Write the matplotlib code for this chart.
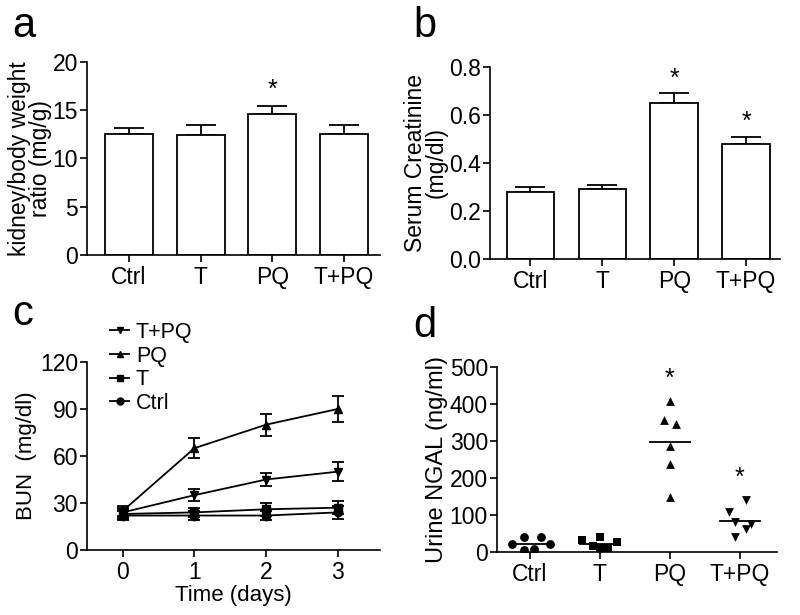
import matplotlib
matplotlib.use("Agg")
import matplotlib.pyplot as plt
from matplotlib.lines import Line2D
import numpy as np

plt.rcParams['font.family'] = ['Liberation Sans', 'DejaVu Sans']
plt.rcParams['axes.linewidth'] = 1.2
plt.rcParams['xtick.major.width'] = 1.2
plt.rcParams['ytick.major.width'] = 1.2
plt.rcParams['xtick.major.size'] = 5
plt.rcParams['ytick.major.size'] = 5

groups = ["Ctrl", "T", "PQ", "T+PQ"]

# Panel a: kidney/body weight ratio (mg/g)
ratio_mean = [12.5, 12.4, 14.6, 12.5]
ratio_err = [0.7, 1.1, 0.8, 1.0]
ratio_sig = [False, False, True, False]

# Panel b: serum creatinine (mg/dl)
creat_mean = [0.28, 0.29, 0.65, 0.48]
creat_err = [0.02, 0.02, 0.04, 0.03]
creat_sig = [False, False, True, True]

# Panel c: BUN over time
days = [0, 1, 2, 3]
bun_tpq = [24, 35, 45, 50]
bun_tpq_err = [3, 4, 4, 6]
bun_pq = [25, 65, 80, 90]
bun_pq_err = [3, 6.5, 7, 8]
bun_t = [23, 24, 26, 27]
bun_t_err = [3, 3, 4, 4]
bun_ctrl = [22, 22, 22, 24]
bun_ctrl_err = [3, 3, 3, 4]

# Panel d: urine NGAL (ng/ml), individual animals
ngal_ctrl = [22, 40, 5, 8, 40, 22]
ngal_t = [32, 15, 40, 10, 10, 26]
ngal_pq = [408, 358, 347, 287, 237, 148]
ngal_tpq = [140, 108, 81, 76, 62, 40]
ngal_sig = [False, False, True, True]

# horizontal jitter (layout only)
jit_ctrl = [-0.25, -0.08, -0.08, 0.06, 0.16, 0.28]
jit_t = [-0.25, -0.1, 0.0, 0.0, 0.12, 0.25]
jit_pq = [0.0, -0.09, 0.09, 0.0, 0.0, 0.0]
jit_tpq = [0.09, -0.16, -0.07, 0.16, 0.09, -0.07]

W, H = 800, 615
fig = plt.figure(figsize=(8, 6.15), dpi=100)

def ax_at(l, t, r, b):
    return fig.add_axes([l / W, 1 - b / H, (r - l) / W, (b - t) / H])

TICK_FS = 16.5
LAB_FS = 16

def style(ax):
    ax.spines['top'].set_visible(False)
    ax.spines['right'].set_visible(False)
    ax.tick_params(labelsize=TICK_FS, direction='out')
    ax.tick_params(axis='y', pad=1.5)
    ax.tick_params(axis='x', pad=3)

x = np.arange(4)

# ---- a ----
axa = ax_at(87, 62, 380, 255)
axa.bar(x, ratio_mean, width=0.67, color='white', edgecolor='black', linewidth=1.3, zorder=2)
axa.errorbar(x, ratio_mean, yerr=[np.zeros(4), ratio_err], fmt='none', ecolor='black',
             elinewidth=1.3, capsize=11, capthick=1.3, zorder=1)
for i in range(4):
    if ratio_sig[i]:
        axa.text(x[i], ratio_mean[i] + ratio_err[i] + 0.5, '*', ha='center', va='bottom', fontsize=18)
axa.set_xlim(-0.586, 3.5)
axa.set_ylim(0, 20)
axa.set_yticks([0, 5, 10, 15, 20])
axa.set_xticks(x)
axa.set_xticklabels(groups)
axa.set_ylabel("kidney/body weight\nratio (mg/g)", fontsize=16.5, labelpad=0, linespacing=0.9)
style(axa)
fig.text(12 / W, 1 - 37 / H, 'a', fontsize=30, ha='left', va='baseline')

# ---- b ----
axb = ax_at(490, 67, 780, 259)
axb.bar(x, creat_mean, width=0.66, color='white', edgecolor='black', linewidth=1.3, zorder=2)
axb.errorbar(x, creat_mean, yerr=[np.zeros(4), creat_err], fmt='none', ecolor='black',
             elinewidth=1.3, capsize=11, capthick=1.3, zorder=1)
for i in range(4):
    if creat_sig[i]:
        axb.text(x[i], creat_mean[i] + creat_err[i] + 0.01, '*', ha='center', va='bottom', fontsize=18)
axb.set_xlim(-0.56, 3.47)
axb.set_ylim(0, 0.8)
axb.set_yticks([0.0, 0.2, 0.4, 0.6, 0.8])
axb.set_yticklabels(['0.0', '0.2', '0.4', '0.6', '0.8'])
axb.set_xticks(x)
axb.set_xticklabels(groups)
axb.set_ylabel("Serum Creatinine\n(mg/dl)", fontsize=16.5, labelpad=1, linespacing=0.9)
style(axb)
fig.text(413 / W, 1 - 37 / H, 'b', fontsize=30, ha='left', va='baseline')

# ---- c ----
axc = ax_at(87, 362, 380, 550)
series = [
    ("T+PQ", bun_tpq, bun_tpq_err, 'v'),
    ("PQ", bun_pq, bun_pq_err, '^'),
    ("T", bun_t, bun_t_err, 's'),
    ("Ctrl", bun_ctrl, bun_ctrl_err, 'o'),
]
handles = []
for name, vals, errs, mk in series:
    axc.errorbar(days, vals, yerr=errs, color='black', marker=mk, markersize=6,
                 linewidth=1.3, elinewidth=1.3, capsize=4, capthick=1.3)
    handles.append(Line2D([], [], color='black', marker=mk, markersize=5, linewidth=1.3, label=name))
axc.set_xlim(-0.5, 3.59)
axc.set_ylim(0, 120)
axc.set_yticks([0, 30, 60, 90, 120])
axc.set_xticks(days)
axc.set_xlabel("Time (days)", fontsize=LAB_FS, labelpad=1)
axc.set_ylabel("BUN  (mg/dl)", fontsize=LAB_FS, labelpad=2)
style(axc)
leg = axc.legend(handles=handles, loc='upper left', bbox_to_anchor=(110 / W, 1 - 322 / H),
                 bbox_transform=fig.transFigure, frameon=False, fontsize=15.5,
                 handlelength=0.9, handletextpad=0.3, labelspacing=0.12,
                 borderpad=0, borderaxespad=0)
fig.text(12 / W, 1 - 325 / H, 'c', fontsize=30, ha='left', va='baseline')

# ---- d ----
axd = ax_at(497, 367, 777, 552)
pts = [(ngal_ctrl, jit_ctrl, 'o'), (ngal_t, jit_t, 's'), (ngal_pq, jit_pq, '^'), (ngal_tpq, jit_tpq, 'v')]
for i, (vals, jit, mk) in enumerate(pts):
    xs = x[i] + np.array(jit)
    axd.scatter(xs, vals, marker=mk, s=40, color='black', zorder=3, linewidths=0)
    m = np.mean(vals)
    axd.plot([x[i] - 0.28, x[i] + 0.28], [m, m], color='black', linewidth=1.3, zorder=2)
    if ngal_sig[i]:
        axd.text(x[i], max(vals) + 60, '*', ha='center', va='center', fontsize=18)
axd.set_xlim(-0.47, 3.53)
axd.set_ylim(0, 500)
axd.set_yticks([0, 100, 200, 300, 400, 500])
axd.set_xticks(x)
axd.set_xticklabels(groups)
axd.set_ylabel("Urine NGAL (ng/ml)", fontsize=17, labelpad=1)
style(axd)
fig.text(413 / W, 1 - 337 / H, 'd', fontsize=30, ha='left', va='baseline')

fig.savefig("out.png", dpi=100)
